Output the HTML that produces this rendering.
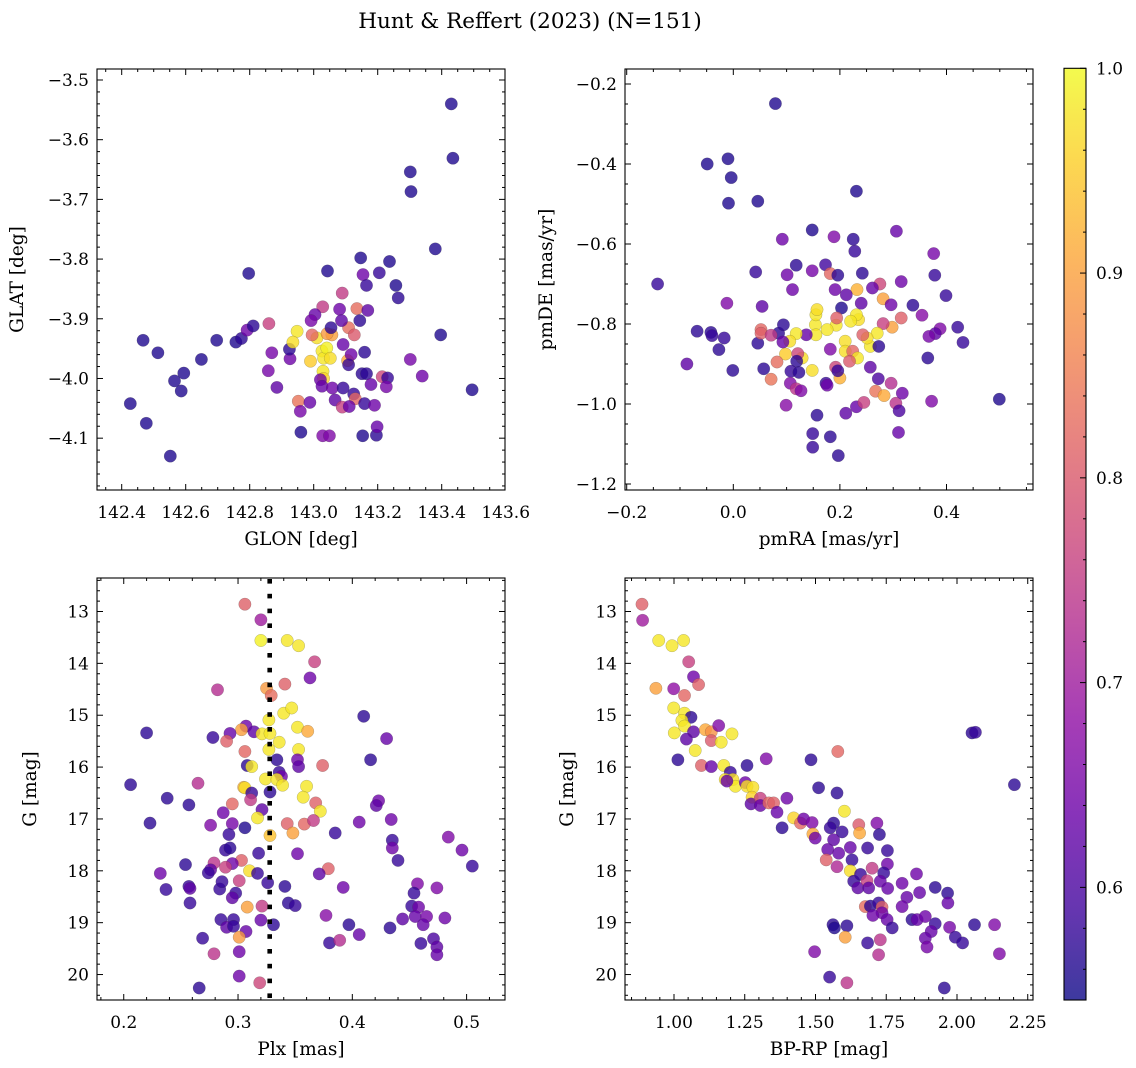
<!DOCTYPE html>
<html><head><meta charset="utf-8">
<style>
html,body{margin:0;padding:0;background:#fff;}
svg{display:block;font-family:"DejaVu Serif","Liberation Serif",serif;}
</style></head>
<body>
<svg id="fig" width="1136" height="1068" viewBox="0 0 1136 1068">
<text x="530" y="28" text-anchor="middle" font-size="21.5">Hunt &amp; Reffert (2023) (N=151)</text>
</svg>
<script>
// ---------- data: [x, y, membership probability] ----------
const skyPoints = [[143.430,-3.540,0.56],[143.435,-3.631,0.56],[143.302,-3.654,0.56],[143.304,-3.687,0.56],[143.380,-3.783,0.56],[143.147,-3.798,0.56],[143.237,-3.804,0.56],[142.797,-3.824,0.56],[143.043,-3.820,0.56],[143.154,-3.826,0.64],[143.205,-3.823,0.58],[143.165,-3.844,0.58],[143.257,-3.844,0.56],[143.264,-3.865,0.57],[143.089,-3.857,0.75],[143.397,-3.927,0.56],[142.467,-3.936,0.56],[142.513,-3.957,0.56],[142.565,-4.004,0.56],[142.594,-3.991,0.56],[142.586,-4.021,0.56],[142.649,-3.968,0.56],[142.697,-3.936,0.56],[142.757,-3.939,0.56],[142.774,-3.933,0.57],[142.792,-3.919,0.64],[142.811,-3.912,0.57],[142.860,-3.908,0.76],[142.427,-4.042,0.56],[142.477,-4.075,0.56],[142.552,-4.130,0.56],[143.495,-4.019,0.56],[143.302,-3.968,0.65],[143.339,-3.996,0.64],[142.960,-4.090,0.56],[143.028,-4.096,0.66],[143.049,-4.096,0.66],[143.153,-4.096,0.56],[143.196,-4.095,0.57],[143.198,-4.081,0.63],[142.952,-4.038,0.84],[142.958,-4.055,0.65],[142.988,-4.040,0.63],[142.858,-3.987,0.65],[142.869,-3.957,0.65],[142.926,-3.967,0.64],[142.924,-3.951,0.57],[142.885,-4.015,0.62],[142.948,-3.921,0.98],[142.935,-3.939,0.97],[142.990,-3.971,0.95],[143.010,-3.932,0.97],[143.026,-3.954,0.98],[143.031,-3.966,0.98],[143.041,-3.949,0.99],[143.052,-3.966,0.97],[143.029,-3.988,0.98],[143.031,-4.000,0.96],[142.995,-3.927,0.82],[143.057,-3.927,0.90],[143.042,-3.925,0.89],[143.106,-3.970,0.91],[143.109,-3.915,0.83],[143.127,-3.927,0.80],[143.135,-3.883,0.83],[143.028,-3.880,0.75],[143.004,-3.893,0.63],[142.992,-3.903,0.65],[143.081,-3.884,0.64],[143.087,-3.903,0.62],[143.144,-3.903,0.57],[143.169,-3.886,0.62],[143.054,-3.915,0.57],[143.092,-3.943,0.63],[143.117,-3.960,0.64],[143.109,-3.977,0.58],[143.021,-4.002,0.64],[143.026,-4.013,0.63],[143.058,-4.016,0.64],[143.092,-4.016,0.58],[143.125,-4.026,0.58],[143.130,-4.034,0.82],[143.067,-4.036,0.62],[143.089,-4.048,0.76],[143.111,-4.047,0.63],[143.159,-4.042,0.58],[143.190,-4.045,0.64],[143.159,-3.956,0.57],[143.151,-3.992,0.57],[143.165,-3.992,0.57],[143.179,-4.010,0.63],[143.214,-3.997,0.77],[143.231,-3.999,0.58],[143.227,-4.014,0.65]];

const pmPoints = [[0.079,-0.249,0.56],[-0.049,-0.400,0.56],[-0.010,-0.387,0.56],[-0.004,-0.434,0.56],[-0.009,-0.498,0.56],[0.046,-0.493,0.56],[0.231,-0.468,0.56],[0.148,-0.565,0.56],[0.092,-0.588,0.64],[0.189,-0.582,0.66],[0.225,-0.588,0.57],[0.228,-0.618,0.58],[0.306,-0.568,0.63],[0.376,-0.624,0.65],[0.378,-0.678,0.58],[0.042,-0.670,0.58],[0.118,-0.653,0.57],[0.101,-0.677,0.64],[0.148,-0.667,0.65],[0.173,-0.652,0.59],[0.182,-0.674,0.82],[0.196,-0.678,0.57],[0.242,-0.673,0.57],[0.111,-0.714,0.64],[-0.142,-0.700,0.58],[0.315,-0.694,0.64],[0.399,-0.729,0.58],[0.275,-0.700,0.77],[0.261,-0.710,0.63],[0.232,-0.714,0.92],[0.191,-0.714,0.64],[0.212,-0.727,0.62],[0.240,-0.748,0.62],[0.281,-0.737,0.90],[0.296,-0.752,0.64],[0.337,-0.753,0.57],[-0.012,-0.748,0.66],[0.054,-0.756,0.62],[0.203,-0.760,0.56],[0.354,-0.778,0.67],[0.388,-0.812,0.66],[0.379,-0.824,0.62],[0.367,-0.831,0.65],[0.421,-0.808,0.58],[0.431,-0.846,0.58],[0.365,-0.885,0.57],[0.499,-0.988,0.56],[0.315,-0.785,0.81],[0.298,-0.808,0.90],[0.281,-0.799,0.76],[0.270,-0.823,0.98],[0.257,-0.856,0.98],[0.251,-0.835,0.97],[0.243,-0.827,0.81],[0.273,-0.856,0.57],[0.235,-0.789,0.97],[0.231,-0.777,0.98],[0.220,-0.793,0.98],[0.210,-0.843,0.97],[0.210,-0.868,0.97],[0.224,-0.868,0.82],[0.233,-0.885,0.98],[0.218,-0.893,0.80],[0.193,-0.803,0.98],[0.176,-0.814,0.98],[0.194,-0.785,0.81],[0.154,-0.802,0.98],[0.155,-0.777,0.98],[0.157,-0.764,0.97],[0.155,-0.827,0.98],[0.137,-0.827,0.63],[0.118,-0.824,0.98],[0.106,-0.843,0.97],[0.098,-0.875,0.95],[0.129,-0.885,0.97],[0.148,-0.916,0.97],[0.121,-0.874,0.77],[0.119,-0.893,0.57],[0.108,-0.918,0.58],[0.123,-0.921,0.57],[0.107,-0.948,0.66],[0.118,-0.962,0.74],[0.127,-0.967,0.66],[0.085,-0.823,0.57],[0.093,-0.845,0.63],[0.094,-0.802,0.57],[0.046,-0.848,0.57],[0.052,-0.814,0.82],[0.052,-0.823,0.81],[0.071,-0.828,0.75],[0.082,-0.895,0.83],[0.071,-0.938,0.84],[0.057,-0.912,0.57],[-0.001,-0.916,0.57],[-0.068,-0.818,0.57],[-0.042,-0.821,0.57],[-0.040,-0.829,0.58],[-0.017,-0.835,0.58],[-0.027,-0.864,0.57],[-0.087,-0.900,0.62],[0.099,-1.003,0.67],[0.157,-1.028,0.57],[0.149,-1.074,0.58],[0.149,-1.108,0.58],[0.182,-1.082,0.57],[0.197,-1.129,0.57],[0.211,-1.023,0.62],[0.231,-1.007,0.63],[0.245,-0.996,0.76],[0.182,-0.863,0.66],[0.174,-0.948,0.58],[0.176,-0.953,0.64],[0.192,-0.908,0.77],[0.200,-0.935,0.92],[0.196,-0.917,0.58],[0.257,-0.908,0.62],[0.272,-0.937,0.60],[0.267,-0.968,0.84],[0.283,-0.979,0.91],[0.296,-0.948,0.73],[0.305,-0.998,0.74],[0.311,-1.017,0.60],[0.317,-0.973,0.64],[0.310,-1.071,0.63],[0.372,-0.993,0.66]];

const plxPoints = [[0.306,12.86,0.81],[0.320,13.16,0.70],[0.320,13.56,0.99],[0.343,13.56,0.98],[0.353,13.66,0.98],[0.367,13.97,0.76],[0.363,14.28,0.64],[0.282,14.51,0.73],[0.325,14.48,0.89],[0.329,14.62,0.83],[0.341,14.40,0.81],[0.340,14.96,0.98],[0.347,14.86,0.98],[0.410,15.02,0.57],[0.327,15.09,0.98],[0.352,15.23,0.98],[0.361,15.31,0.91],[0.220,15.34,0.57],[0.307,15.21,0.64],[0.303,15.28,0.90],[0.314,15.32,0.62],[0.321,15.36,0.98],[0.328,15.35,0.98],[0.293,15.35,0.63],[0.290,15.50,0.81],[0.278,15.43,0.58],[0.430,15.45,0.63],[0.336,15.52,0.98],[0.327,15.66,0.98],[0.353,15.66,0.98],[0.306,15.70,0.82],[0.334,15.86,0.57],[0.416,15.86,0.57],[0.352,15.86,0.64],[0.353,15.99,0.62],[0.308,15.97,0.57],[0.312,15.99,0.98],[0.374,15.97,0.81],[0.336,16.10,0.58],[0.338,16.18,0.64],[0.206,16.34,0.57],[0.265,16.31,0.73],[0.324,16.23,0.98],[0.334,16.24,0.98],[0.339,16.35,0.98],[0.360,16.37,0.98],[0.305,16.39,0.92],[0.306,16.40,0.97],[0.312,16.50,0.58],[0.328,16.48,0.57],[0.311,16.63,0.75],[0.357,16.58,0.98],[0.238,16.60,0.57],[0.257,16.73,0.57],[0.295,16.71,0.82],[0.368,16.69,0.81],[0.423,16.65,0.64],[0.421,16.74,0.62],[0.372,16.85,0.98],[0.321,16.82,0.62],[0.287,16.88,0.64],[0.317,16.98,0.98],[0.223,17.08,0.57],[0.276,17.12,0.66],[0.295,17.09,0.65],[0.306,17.17,0.56],[0.343,17.09,0.81],[0.358,17.10,0.82],[0.366,17.03,0.75],[0.348,17.27,0.90],[0.385,17.27,0.58],[0.406,17.06,0.64],[0.434,17.01,0.64],[0.292,17.30,0.58],[0.328,17.32,0.94],[0.435,17.41,0.58],[0.435,17.56,0.64],[0.484,17.35,0.66],[0.496,17.60,0.64],[0.505,17.91,0.58],[0.440,17.80,0.58],[0.352,17.67,0.64],[0.318,17.66,0.58],[0.289,17.60,0.58],[0.293,17.56,0.57],[0.303,17.80,0.81],[0.279,17.85,0.74],[0.254,17.88,0.57],[0.276,17.98,0.62],[0.295,17.86,0.64],[0.289,17.93,0.76],[0.310,18.00,0.97],[0.317,18.05,0.58],[0.274,18.04,0.58],[0.232,18.05,0.64],[0.379,17.96,0.81],[0.371,18.06,0.62],[0.237,18.36,0.58],[0.257,18.30,0.58],[0.258,18.34,0.62],[0.284,18.35,0.58],[0.286,18.21,0.58],[0.301,18.19,0.76],[0.326,18.23,0.58],[0.341,18.30,0.57],[0.392,18.32,0.64],[0.298,18.43,0.58],[0.295,18.52,0.62],[0.258,18.62,0.58],[0.308,18.70,0.90],[0.321,18.68,0.75],[0.344,18.62,0.57],[0.350,18.67,0.58],[0.457,18.25,0.66],[0.454,18.43,0.58],[0.474,18.33,0.66],[0.452,18.68,0.58],[0.458,18.70,0.64],[0.455,18.88,0.63],[0.465,18.88,0.65],[0.462,19.04,0.63],[0.481,18.91,0.64],[0.444,18.93,0.62],[0.433,19.10,0.57],[0.377,18.86,0.67],[0.397,19.04,0.57],[0.406,19.23,0.63],[0.380,19.39,0.58],[0.389,19.34,0.73],[0.460,19.40,0.58],[0.471,19.31,0.60],[0.474,19.47,0.62],[0.474,19.62,0.63],[0.285,18.94,0.58],[0.296,18.94,0.58],[0.290,19.09,0.62],[0.296,19.07,0.58],[0.307,19.17,0.63],[0.301,19.28,0.89],[0.320,18.95,0.63],[0.331,19.04,0.57],[0.269,19.30,0.58],[0.279,19.60,0.74],[0.301,19.56,0.64],[0.301,20.03,0.64],[0.319,20.16,0.77],[0.266,20.26,0.57]];

const cmdPoints = [[0.887,12.86,0.81],[0.889,13.17,0.70],[0.946,13.56,0.98],[0.993,13.66,0.98],[1.034,13.56,0.98],[1.052,13.97,0.76],[1.069,14.26,0.64],[1.087,14.41,0.81],[0.936,14.48,0.90],[0.999,14.49,0.68],[1.037,14.62,0.82],[0.999,14.86,0.98],[1.037,14.96,0.98],[1.060,15.04,0.57],[1.028,15.10,0.98],[1.037,15.21,0.98],[1.001,15.34,0.98],[1.069,15.32,0.62],[1.044,15.46,0.62],[1.111,15.28,0.91],[1.132,15.32,0.88],[1.132,15.49,0.80],[1.158,15.20,0.66],[1.167,15.52,0.98],[1.205,15.36,0.98],[1.075,15.68,0.98],[1.014,15.86,0.57],[1.097,15.97,0.81],[1.132,15.99,0.63],[1.176,15.97,0.98],[1.199,16.10,0.58],[1.181,16.24,0.97],[1.208,16.24,0.97],[1.217,16.37,0.98],[1.187,16.27,0.63],[1.258,15.97,0.57],[1.326,15.84,0.66],[1.252,16.30,0.64],[1.258,16.37,0.97],[1.279,16.39,0.97],[1.276,16.58,0.96],[1.272,16.71,0.62],[1.305,16.60,0.76],[1.305,16.74,0.63],[1.335,16.69,0.82],[1.352,16.69,0.81],[1.364,16.87,0.63],[1.399,16.60,0.64],[1.382,17.17,0.57],[1.423,16.98,0.96],[1.447,17.08,0.82],[1.458,17.00,0.64],[1.488,17.07,0.66],[1.491,17.29,0.91],[1.499,17.37,0.64],[1.511,16.40,0.57],[1.484,15.86,0.57],[1.579,15.70,0.82],[1.576,16.50,0.57],[1.602,16.85,0.98],[1.564,17.08,0.57],[1.552,17.17,0.58],[1.594,17.25,0.58],[1.564,17.40,0.62],[1.543,17.59,0.63],[1.538,17.79,0.81],[1.582,17.66,0.63],[1.576,17.92,0.72],[1.623,17.55,0.63],[1.629,17.79,0.58],[1.623,18.00,0.97],[1.635,18.20,0.58],[1.650,18.33,0.62],[1.659,18.07,0.58],[1.653,17.11,0.80],[1.656,17.27,0.91],[1.684,17.56,0.58],[1.717,17.08,0.66],[1.726,17.30,0.57],[1.754,17.61,0.58],[1.754,17.87,0.64],[1.700,17.95,0.75],[1.741,18.04,0.58],[1.682,18.19,0.76],[1.688,18.33,0.62],[1.729,18.20,0.63],[1.755,18.34,0.63],[1.806,18.24,0.64],[1.823,18.51,0.63],[1.857,18.06,0.64],[1.868,18.42,0.63],[1.806,18.69,0.64],[1.923,18.32,0.57],[1.967,18.43,0.57],[1.968,18.62,0.63],[1.676,18.69,0.83],[1.694,18.68,0.57],[1.723,18.62,0.58],[1.735,18.70,0.81],[1.735,18.81,0.64],[1.703,18.86,0.64],[1.753,18.94,0.63],[1.771,19.10,0.58],[1.841,18.94,0.57],[1.859,18.94,0.63],[1.888,18.88,0.64],[1.923,19.02,0.58],[1.909,19.17,0.63],[1.888,19.30,0.63],[1.894,19.47,0.65],[1.974,19.09,0.65],[1.994,19.28,0.58],[2.020,19.39,0.58],[2.062,19.04,0.57],[2.133,19.04,0.66],[2.150,19.60,0.66],[2.053,15.34,0.57],[2.065,15.33,0.58],[2.203,16.34,0.57],[1.562,19.04,0.57],[1.567,19.10,0.56],[1.611,19.06,0.57],[1.605,19.28,0.90],[1.684,19.39,0.58],[1.729,19.33,0.74],[1.723,19.62,0.73],[1.497,19.56,0.66],[1.550,20.05,0.58],[1.611,20.16,0.74],[1.955,20.26,0.57]];

const plxMedian = 0.3277;
const colorbarTicks = [0.6, 0.7, 0.8, 0.9, 1.0];
const skyXTicks = [142.4,142.6,142.8,143.0,143.2,143.4,143.6];
const skyYTicks = [-3.5,-3.6,-3.7,-3.8,-3.9,-4.0,-4.1];
const pmXTicks = [-0.2,0.0,0.2,0.4];
const pmYTicks = [-0.2,-0.4,-0.6,-0.8,-1.0,-1.2];
const plxXTicks = [0.2,0.3,0.4,0.5];
const magTicks = [13,14,15,16,17,18,19,20];
const colorXTicks = [1.00,1.25,1.50,1.75,2.00,2.25];

// ---------- helpers ----------
const NS = "http://www.w3.org/2000/svg";
const svg = document.getElementById('fig');
function el(tag, attrs, parent) {
  const e = document.createElementNS(NS, tag);
  for (const k in attrs) e.setAttribute(k, attrs[k]);
  (parent || svg).appendChild(e);
  return e;
}
const VMIN = 0.545, VMAX = 1.0;
const plasma = [[13,8,135],[65,4,157],[106,0,168],[143,13,164],[177,42,144],[204,71,120],[225,100,98],[242,132,75],[252,166,54],[252,206,37],[240,249,33]];
function cmap(v) {
  let t = Math.max(0, Math.min(1, (v - VMIN) / (VMAX - VMIN))) * 10;
  const i = Math.min(9, Math.floor(t)), f = t - i;
  const a = plasma[i], b = plasma[i + 1];
  return `rgb(${a.map((c, k) => Math.round(c + (b[k] - c) * f)).join(',')})`;
}
function fmt(v, d) { const s = Math.abs(v).toFixed(d); return (v < -1e-9 ? '\u2212' : '') + s; }

function panel(o) {
  const g = el('g', {});
  
  
  const sx = v => o.x0 + (v - o.xd[0]) / (o.xd[1] - o.xd[0]) * (o.x1 - o.x0);
  const sy = v => o.y0 + (v - o.yd[0]) / (o.yd[1] - o.yd[0]) * (o.y1 - o.y0);
  const pg = el('g', {}, g);
  
  
  o.data.forEach(d => {
    const c = el('circle', { cx: sx(d[0]).toFixed(1), cy: sy(d[1]).toFixed(1), r: 6.2, fill: cmap(d[2]), 'fill-opacity': 0.8, stroke: 'rgba(60,60,60,0.35)', 'stroke-width': 0.5 }, pg);
    
    
  });
  if (o.vline !== undefined) {
    const lg = el('g', { fill: '#000' }, g);
    
    
    const X = sx(o.vline);
    for (let y = o.y0 + 1; y < o.y1 - 2; y += 14.8) {
      el('rect', { x: (X - 2.3).toFixed(1), y: y.toFixed(1), width: 4.6, height: Math.min(4.6, o.y1 - y).toFixed(1) }, lg);
    }
  }
  const f = el('rect', { x: o.x0, y: o.y0, width: o.x1 - o.x0, height: o.y1 - o.y0, fill: 'none', stroke: '#000', 'stroke-width': 1.1 }, g);
  
  
  const tk = el('g', { stroke: '#000', 'stroke-width': 1 }, g);
  
  
  const xl = Math.min(o.xd[0], o.xd[1]), xh = Math.max(o.xd[0], o.xd[1]);
  const yl = Math.min(o.yd[0], o.yd[1]), yh = Math.max(o.yd[0], o.yd[1]);
  for (let v = Math.ceil(xl / o.xm - 1e-6) * o.xm; v <= xh + 1e-9; v += o.xm) {
    const X = sx(v), major = o.xt.some(t => Math.abs(t - v) < o.xm / 3), L = major ? 6 : 3;
    el('line', { x1: X, x2: X, y1: o.y1, y2: o.y1 - L }, tk); el('line', { x1: X, x2: X, y1: o.y0, y2: o.y0 + L }, tk);
  }
  for (let v = Math.ceil(yl / o.ym - 1e-6) * o.ym; v <= yh + 1e-9; v += o.ym) {
    const Y = sy(v), major = o.yt.some(t => Math.abs(t - v) < o.ym / 3), L = major ? 6 : 3;
    el('line', { x1: o.x0, x2: o.x0 + L, y1: Y, y2: Y }, tk); el('line', { x1: o.x1, x2: o.x1 - L, y1: Y, y2: Y }, tk);
  }
  o.xt.forEach(v => {
    const t = el('text', { x: sx(v), y: o.y1 + 28, 'text-anchor': 'middle', 'font-size': 17 }, g);
    t.textContent = fmt(v, o.xdp);
    
    
  });
  o.yt.forEach(v => {
    const t = el('text', { x: o.x0 - 8, y: sy(v) + 6, 'text-anchor': 'end', 'font-size': 17 }, g);
    t.textContent = fmt(v, o.ydp);
    
    
  });
  const xt = el('text', { x: (o.x0 + o.x1) / 2, y: o.y1 + 55, 'text-anchor': 'middle', 'font-size': 18.5 }, g);
  xt.textContent = o.xlabel;
  
  
  const yx = o.ylx, yy = (o.y0 + o.y1) / 2;
  const yt = el('text', { x: yx, y: yy, 'text-anchor': 'middle', 'font-size': 18.5, transform: `rotate(-90 ${yx} ${yy})` }, g);
  yt.textContent = o.ylabel;
  
  
}

panel({ name: 'sky-panel', data: skyPoints, x0: 97, x1: 505, y0: 69, y1: 490, xd: [142.3228, 143.5978], yd: [-3.4816, -4.1868], xt: skyXTicks, yt: skyYTicks, xm: 0.05, ym: 0.02, xdp: 1, ydp: 1, xlabel: 'GLON [deg]', ylabel: 'GLAT [deg]', ylx: 23 });
panel({ name: 'proper-motion-panel', data: pmPoints, x0: 625, x1: 1033, y0: 69, y1: 490, xd: [-0.2032, 0.5623], yd: [-0.1625, -1.215], xt: pmXTicks, yt: pmYTicks, xm: 0.05, ym: 0.05, xdp: 1, ydp: 1, xlabel: 'pmRA [mas/yr]', ylabel: 'pmDE [mas/yr]', ylx: 552 });
panel({ name: 'parallax-panel', data: plxPoints, x0: 97, x1: 505, y0: 578, y1: 1000, xd: [0.1766, 0.5336], yd: [12.354, 20.491], xt: plxXTicks, yt: magTicks, xm: 0.02, ym: 0.2, xdp: 1, ydp: 0, xlabel: 'Plx [mas]', ylabel: 'G [mag]', ylx: 36, vline: plxMedian });
panel({ name: 'cmd-panel', data: cmdPoints, x0: 625, x1: 1033, y0: 578, y1: 1000, xd: [0.8269, 2.2686], yd: [12.354, 20.491], xt: colorXTicks, yt: magTicks, xm: 0.05, ym: 0.2, xdp: 2, ydp: 0, xlabel: 'BP-RP [mag]', ylabel: 'G [mag]', ylx: 573 });

// ---------- colorbar ----------
const cb = el('g', {});


const defs = el('defs', {}, cb);
const grad = el('linearGradient', { id: 'cbg', x1: 0, y1: 1, x2: 0, y2: 0 }, defs);
for (let i = 0; i <= 20; i++) {
  const v = VMIN + (VMAX - VMIN) * i / 20;
  el('stop', { offset: i / 20, 'stop-color': cmap(v), 'stop-opacity': 0.8 }, grad);
}
const CB = { x0: 1064, x1: 1086, y0: 68.3, y1: 1000 };
const cy = v => CB.y1 - (v - VMIN) / (VMAX - VMIN) * (CB.y1 - CB.y0);
el('rect', { x: CB.x0, y: CB.y0, width: CB.x1 - CB.x0, height: CB.y1 - CB.y0, fill: 'url(#cbg)', stroke: '#000', 'stroke-width': 1.1 }, cb);
for (let v = 0.56; v <= 1.0001; v += 0.02) {
  const major = colorbarTicks.some(t => Math.abs(t - v) < 0.005);
  el('line', { x1: CB.x1, x2: CB.x1 - (major ? 6 : 3), y1: cy(v), y2: cy(v), stroke: '#000', 'stroke-width': 1 }, cb);
}
colorbarTicks.forEach(v => {
  const t = el('text', { x: CB.x1 + 10, y: cy(v) + 6, 'font-size': 17 }, cb);
  t.textContent = v.toFixed(1);
  
  
});
</script>
</body></html>
